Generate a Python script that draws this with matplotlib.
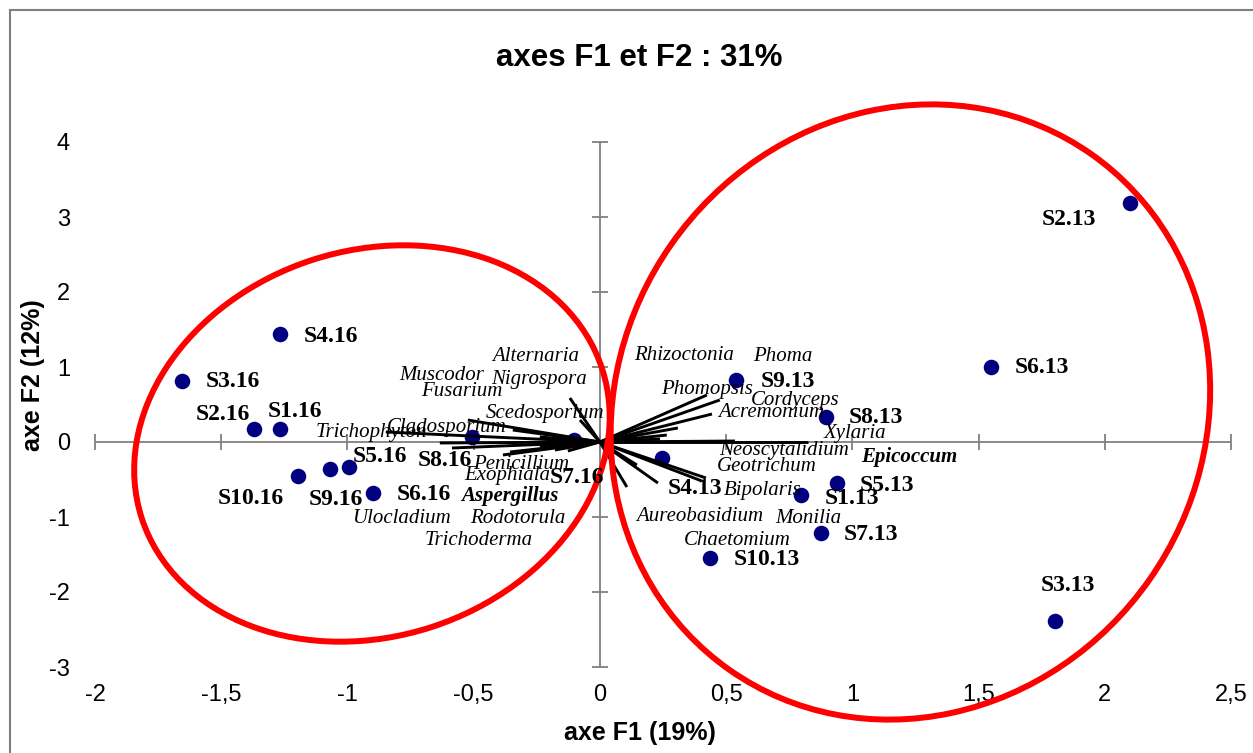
import numpy as np
import matplotlib
matplotlib.use('Agg')
import matplotlib.pyplot as plt
from matplotlib.patches import Ellipse
from matplotlib.transforms import IdentityTransform
from matplotlib.ticker import FuncFormatter
from matplotlib.lines import Line2D

# ---------------- data ----------------
samples = ['S1.16', 'S2.16', 'S3.16', 'S4.16', 'S5.16', 'S6.16', 'S7.16', 'S8.16', 'S9.16', 'S10.16',
           'S1.13', 'S2.13', 'S3.13', 'S4.13', 'S5.13', 'S6.13', 'S7.13', 'S8.13', 'S9.13', 'S10.13']
f1 = [-1.266, -1.369, -1.654, -1.267, -0.995, -0.900, -0.103, -0.508, -1.069, -1.195,
      0.797, 2.099, 1.802, 0.248, 0.939, 1.551, 0.875, 0.894, 0.541, 0.436]
f2 = [0.169, 0.169, 0.817, 1.436, -0.329, -0.676, 0.027, 0.071, -0.364, -0.449,
      -0.707, 3.182, -2.382, -0.209, -0.551, 1.004, -1.209, 0.338, 0.827, -1.547]

species = ['Alternaria', 'Nigrospora', 'Muscodor', 'Fusarium', 'Scedosporium', 'Cladosporium',
           'Trichophyton', 'Penicillium', 'Exophiala', 'Aspergillus', 'Ulocladium', 'Rodotorula',
           'Trichoderma',
           'Rhizoctonia', 'Phoma', 'Phomopsis', 'Cordyceps', 'Acremonium', 'Xylaria',
           'Neoscytalidium', 'Epicoccum', 'Geotrichum', 'Bipolaris', 'Aureobasidium', 'Monilia',
           'Chaetomium']
vec_f1 = [-0.119, -0.079, -0.523, -0.345, -0.238, -0.848, -0.634, -0.384, -0.586, -0.356,
          -0.178, -0.127, -0.238,
          0.424, 0.475, 0.444, 0.309, 0.265, 0.824, 0.535, 0.238, 0.420, 0.404, 0.107, 0.230,
          0.147]
vec_f2 = [0.587, 0.293, 0.293, 0.160, 0.067, 0.133, -0.013, -0.173, -0.080, -0.133,
          -0.107, -0.120, -0.053,
          0.627, 0.560, 0.373, 0.187, 0.093, 0.000, 0.013, 0.040, -0.480, -0.520, -0.600,
          -0.547, -0.307]
bold_species = ['Aspergillus', 'Epicoccum']

x_ticks = [-2, -1.5, -1, -0.5, 0, 0.5, 1, 1.5, 2, 2.5]
y_ticks = [-3, -2, -1, 0, 1, 2, 3, 4]

title = 'axes F1 et F2 : 31%'
xlabel = 'axe F1 (19%)'
ylabel = 'axe F2 (12%)'

# ---------------- layout (label placement, styles) ----------------
# sample label offsets in pixels (dx right, dy up) from the point, text centred
sample_offsets = {
    'S1.16': (15, 17.5), 'S2.16': (-31, 15), 'S3.16': (50.5, -1), 'S4.16': (50.5, -2),
    'S5.16': (31, 10), 'S6.16': (51, -2), 'S7.16': (3.5, -38), 'S8.16': (-26.5, -23.5),
    'S9.16': (5.5, -30), 'S10.16': (-47, -23),
    'S1.13': (51, -3), 'S2.13': (-61, -16), 'S3.13': (13.5, 35), 'S4.13': (32, -31),
    'S5.13': (50.5, -2), 'S6.13': (50.5, -1), 'S7.13': (50.5, -2), 'S8.13': (50.5, -1),
    'S9.13': (51, -2), 'S10.13': (56.5, -1),
}
# species label centres (data units)
species_label_pos = {
    'Alternaria': (-0.253, 1.137), 'Muscodor': (-0.627, 0.880), 'Nigrospora': (-0.242, 0.827),
    'Fusarium': (-0.548, 0.671), 'Scedosporium': (-0.218, 0.383), 'Cladosporium': (-0.608, 0.196),
    'Trichophyton': (-0.905, 0.124), 'Penicillium': (-0.310, -0.297), 'Exophiala': (-0.366, -0.449),
    'Aspergillus': (-0.356, -0.716), 'Ulocladium': (-0.785, -1.023), 'Rodotorula': (-0.324, -1.023),
    'Trichoderma': (-0.482, -1.307),
    'Rhizoctonia': (0.335, 1.160), 'Phoma': (0.723, 1.137), 'Phomopsis': (0.426, 0.703),
    'Cordyceps': (0.772, 0.560), 'Acremonium': (0.680, 0.391), 'Xylaria': (1.010, 0.107),
    'Neoscytalidium': (0.729, -0.107), 'Epicoccum': (1.224, -0.196), 'Geotrichum': (0.663, -0.329),
    'Bipolaris': (0.646, -0.649), 'Aureobasidium': (0.394, -0.996), 'Monilia': (0.825, -1.017),
    'Chaetomium': (0.546, -1.307),
}
# ellipses: centre (data), semi-axes (pixels), angle (deg)
ellipses = [((-0.903, -0.02), 242, 193, 18), ((1.23, 0.40), 315, 292, 55)]

W, H = 1253, 753
L, R, T, B = 95, 1231, 142, 667
gray = '#808080'
sans = ['Liberation Sans', 'DejaVu Sans']
serif = ['Liberation Serif', 'DejaVu Serif']

fig = plt.figure(figsize=(W / 100, H / 100), dpi=100)
fig.patch.set_facecolor('white')
ax = fig.add_axes([L / W, 1 - B / H, (R - L) / W, (B - T) / H])
ax.set_xlim(x_ticks[0], x_ticks[-1])
ax.set_ylim(y_ticks[0], y_ticks[-1])
for s in ax.spines.values():
    s.set_visible(False)

# axes crossing at zero
ax.axhline(0, color=gray, lw=1.3, zorder=1)
ax.axvline(0, color=gray, lw=1.3, zorder=1)
ax.plot(x_ticks, np.zeros(len(x_ticks)), ls='none', marker='|', ms=11, mew=1.3,
        color=gray, zorder=1, clip_on=False)
ax.plot(np.zeros(len(y_ticks)), y_ticks, ls='none', marker='_', ms=11, mew=1.3,
        color=gray, zorder=1, clip_on=False)

ax.set_xticks(x_ticks)
ax.set_yticks(y_ticks)
fmt = FuncFormatter(lambda v, p: ('%g' % v).replace('.', ','))
ax.xaxis.set_major_formatter(fmt)
ax.yaxis.set_major_formatter(fmt)
ax.tick_params(axis='x', length=0, pad=12, labelsize=17)
ax.tick_params(axis='y', length=0, pad=18, labelsize=17)
for lab in ax.get_xticklabels() + ax.get_yticklabels():
    lab.set_family(sans)

# points
ax.scatter(f1, f2, s=125, color='#000080', linewidths=0, zorder=2)

# vectors
for vx, vy in zip(vec_f1, vec_f2):
    ax.plot([0, vx], [0, vy], color='black', lw=2.1, solid_capstyle='butt', zorder=3)

# ellipses (in pixel space)
for (c, a, b, ang) in ellipses:
    cd = ax.transData.transform(c)
    e = Ellipse(cd, 2 * a, 2 * b, angle=ang, fill=False, edgecolor='#ff0000', lw=4.3,
                transform=IdentityTransform(), clip_on=False, zorder=4)
    ax.add_artist(e)

# sample labels
for name, x, y in zip(samples, f1, f2):
    dx, dy = sample_offsets[name]
    ax.annotate(name, (x, y), xytext=(dx, dy), textcoords='offset pixels',
                ha='center', va='center', fontsize=17, fontweight='bold',
                family=serif, zorder=5)

# species labels
for name in species:
    px, py = species_label_pos[name]
    ax.text(px, py, name, ha='center', va='center', fontsize=15, style='italic',
            fontweight='bold' if name in bold_species else 'normal', family=serif, zorder=5)

# titles
fig.text(639 / W, 1 - 58 / H, title, ha='center', va='center', fontsize=22.5,
         fontweight='bold', family=sans)
fig.text(640 / W, 1 - 733 / H, xlabel, ha='center', va='center', fontsize=18,
         fontweight='bold', family=sans)
fig.text(33 / W, 1 - 375 / H, ylabel, ha='center', va='center', fontsize=18,
         fontweight='bold', family=sans, rotation=90)

# chart border
fig.add_artist(Line2D([10 / W, 10 / W], [0, 1 - 10 / H], transform=fig.transFigure,
                      color='#7f7f7f', lw=1.5))
fig.add_artist(Line2D([10 / W, 1], [1 - 10 / H, 1 - 10 / H], transform=fig.transFigure,
                      color='#7f7f7f', lw=1.5))

fig.savefig('out.png', dpi=100, facecolor='white')
